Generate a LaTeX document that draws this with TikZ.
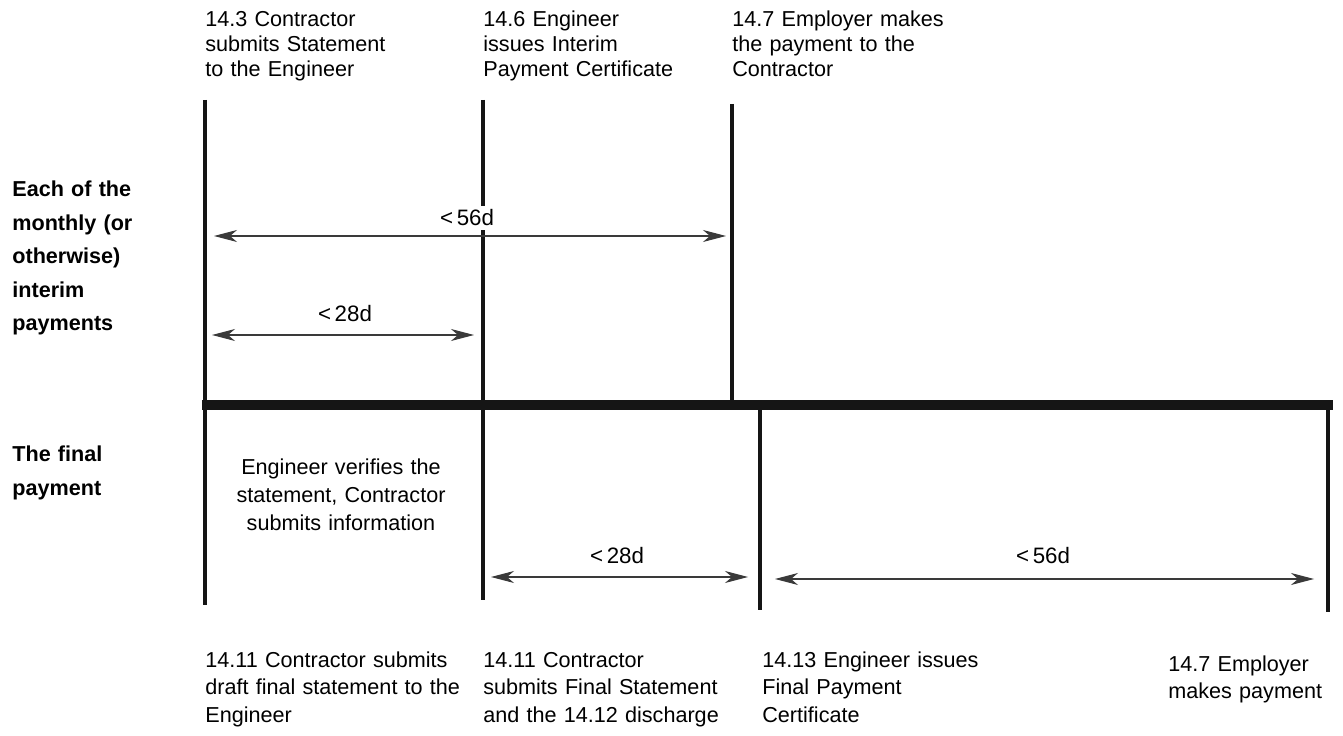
\documentclass[tikz,border=0pt]{standalone}
\usepackage{fontspec}
\setmainfont{Liberation Sans}
\usetikzlibrary{arrows.meta}
\definecolor{ink}{HTML}{151515}
\definecolor{thinink}{HTML}{3A3A3A}

\begin{document}
\begin{tikzpicture}[x=0.02cm,y=-0.02cm,
  bar/.style={line width=2.2pt,draw=ink},
  span/.style={draw=thinink,line width=0.6pt,
    {Stealth[length=0.46cm,width=0.24cm,inset=0.14cm]}-{Stealth[length=0.46cm,width=0.24cm,inset=0.14cm]}},
  toplbl/.style={font=\fontsize{12.3}{14.2}\selectfont,text width=5.5cm,align=left,anchor=base west,inner sep=0pt},
  botlbl/.style={font=\fontsize{12.3}{15.9}\selectfont,text width=5.6cm,align=left,anchor=base west,inner sep=0pt},
  side/.style={font=\fontsize{12.3}{19}\selectfont\bfseries,text width=3.6cm,align=left,anchor=base west,inner sep=0pt},
  days/.style={font=\fontsize{12.7}{14}\selectfont,anchor=base,inner sep=0pt}]
\useasboundingbox (0,0) rectangle (1343,736);

% the time line
\coordinate (left) at (202,405);
\coordinate (right) at (1333,405);
\draw[line width=5.6pt,draw=ink] (left) -- (right);

% event bars
\coordinate (top1) at (205,100); \coordinate (bot1) at (205,605);
\coordinate (top2) at (483,100); \coordinate (bot2) at (483,600);
\coordinate (top3) at (732,104); \coordinate (bot3) at (732,405);
\coordinate (top4) at (760,405); \coordinate (bot4) at (760,610);
\coordinate (top5) at (1328,405); \coordinate (bot5) at (1328,612);
\foreach \b in {1,...,5} \draw[bar] (top\b) -- (bot\b);

% interim payments
\node[side] (interim) at (12,197) {Each of the\\monthly (or\\otherwise)\\interim\\payments};
\node[toplbl] (stmt) at (205,27) {14.3 Contractor\\submits Statement\\to the Engineer};
\node[toplbl] (ipc) at (483,27) {14.6 Engineer\\issues Interim\\Payment Certificate};
\node[toplbl] (pay) at (732,27) {14.7 Employer makes\\the payment to the\\Contractor};

\coordinate (a56s) at (214,236); \coordinate (a56e) at (726,236);
\draw[span] (a56s) -- (a56e);
\node[days,fill=white,inner sep=2pt] (d56) at (467,226) {<\,56d};
\coordinate (a28s) at (212,335); \coordinate (a28e) at (474,335);
\draw[span] (a28s) -- (a28e);
\node[days] (d28) at (345,322) {<\,28d};

% final payment
\node[side] (final) at (12,462) {The final\\payment};
\node[font=\fontsize{12.3}{15.9}\selectfont,text width=5cm,align=center,anchor=base,inner sep=0pt]
  (verify) at (341,475) {Engineer verifies the\\statement, Contractor\\submits information};

\coordinate (f28s) at (491,577); \coordinate (f28e) at (748,577);
\draw[span] (f28s) -- (f28e);
\node[days] (g28) at (617,563) {<\,28d};
\coordinate (f56s) at (775,579); \coordinate (f56e) at (1314,579);
\draw[span] (f56s) -- (f56e);
\node[days] (g56) at (1043,563) {<\,56d};

\node[botlbl] (draft) at (205,667) {14.11 Contractor submits\\draft final statement to the\\Engineer};
\node[botlbl] (fs) at (483,667) {14.11 Contractor\\submits Final Statement\\and the 14.12 discharge};
\node[botlbl] (fpc) at (762,667) {14.13 Engineer issues\\Final Payment\\Certificate};
\node[font=\fontsize{12.3}{15.9}\selectfont,text width=3.4cm,align=left,anchor=base west,inner sep=0pt]
  (paid) at (1168,671) {14.7 Employer\\makes payment};
\end{tikzpicture}
\end{document}
